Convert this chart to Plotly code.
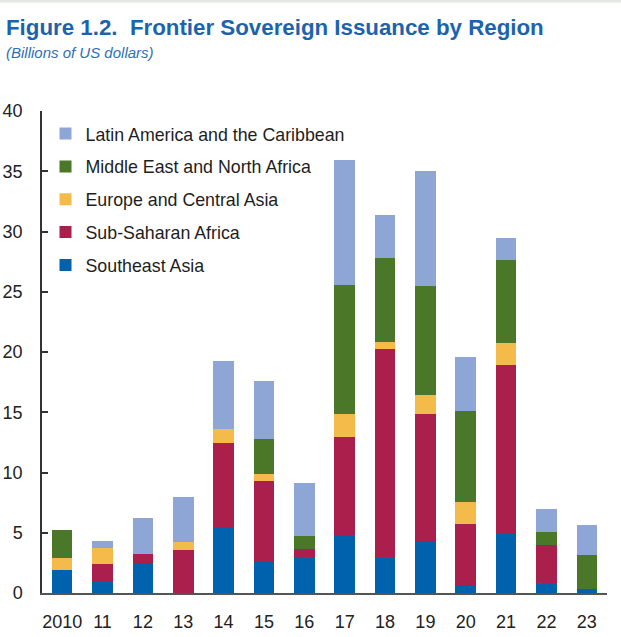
import plotly.graph_objects as go

years = ["2010", "11", "12", "13", "14", "15", "16", "17", "18", "19", "20", "21", "22", "23"]
southeast_asia = [1.9, 0.9, 2.45, 0.0, 5.4, 2.55, 2.97, 4.8, 2.97, 4.3, 0.55, 4.9, 0.86, 0.35]
sub_saharan_africa = [0.0, 1.5, 0.8, 3.55, 7.05, 6.78, 0.66, 8.15, 17.27, 10.58, 5.15, 14.0, 3.1, 0.0]
europe_central_asia = [1.0, 1.3, 0.0, 0.7, 1.2, 0.53, 0.0, 1.9, 0.55, 1.52, 1.85, 1.85, 0.0, 0.0]
middle_east_north_africa = [2.3, 0.0, 0.0, 0.0, 0.0, 2.93, 1.08, 10.7, 7.03, 9.05, 7.55, 6.85, 1.1, 2.78]
latin_america_caribbean = [0.0, 0.65, 2.95, 3.7, 5.6, 4.8, 4.45, 10.4, 3.55, 9.6, 4.5, 1.85, 1.9, 2.5]
y_ticks = [0, 5, 10, 15, 20, 25, 30, 35, 40]

series = [
    ("Southeast Asia", southeast_asia, "#0061ad"),
    ("Sub-Saharan Africa", sub_saharan_africa, "#aa1f4b"),
    ("Europe and Central Asia", europe_central_asia, "#f5bb4a"),
    ("Middle East and North Africa", middle_east_north_africa, "#4b7728"),
    ("Latin America and the Caribbean", latin_america_caribbean, "#8ea6d6"),
]

fig = go.Figure()
n = len(series)
for i, (name, vals, color) in enumerate(series):
    fig.add_trace(go.Bar(
        x=years, y=vals, name=name, legendgroup=name, legendrank=1000 + (n - i),
        marker=dict(color=color, line=dict(width=0)),
    ))

W, H = 621, 637
L, R, T, B = 42, 14, 111, 44
pw, ph = W - L - R, H - T - B

def px_x(p):
    return (p - L) / pw

def px_y(p):
    return (H - B - p) / ph

fig.update_layout(
    width=W, height=H, autosize=False,
    margin=dict(l=L, r=R, t=T, b=B, autoexpand=False),
    barmode="stack", bargap=0.49,
    plot_bgcolor="white", paper_bgcolor="white",
    font=dict(family="Liberation Sans, Arial, sans-serif", color="#222222"),
    showlegend=True,
    legend=dict(
        traceorder="grouped", tracegroupgap=6.7,
        x=px_x(45.5), y=px_y(115.5), xanchor="left", yanchor="top",
        font=dict(size=17.8, color="#1e1e1e"),
        bgcolor="rgba(0,0,0,0)",
    ),
    xaxis=dict(
        type="category", range=[-0.5, 13.5], automargin=False,
        showline=True, linecolor="#555555", linewidth=2,
        ticks="", showgrid=False,
        tickfont=dict(size=18, color="#222222"),
        ticklabelstandoff=11,
    ),
    yaxis=dict(
        range=[0, 40], tickvals=y_ticks, automargin=False,
        showline=True, linecolor="#333333", linewidth=1.5,
        ticks="inside", ticklen=6, tickwidth=1.5, tickcolor="#333333",
        showgrid=False, zeroline=False,
        tickfont=dict(size=18, color="#222222"),
        ticklabelstandoff=14,
    ),
    annotations=[
        dict(text="<b>Figure 1.2.\u00a0 Frontier Sovereign Issuance by Region</b>",
             xref="paper", yref="paper", x=px_x(4), y=px_y(28),
             xanchor="left", yanchor="middle", showarrow=False,
             font=dict(size=22.3, color="#1c63ae")),
        dict(text="<i>(Billions of US dollars)</i>",
             xref="paper", yref="paper", x=px_x(4), y=px_y(53),
             xanchor="left", yanchor="middle", showarrow=False,
             font=dict(size=15, color="#2f6fb8")),
    ],
    shapes=[
        dict(type="rect", xref="paper", yref="paper",
             x0=px_x(0), x1=px_x(W), y0=px_y(2.5), y1=px_y(0),
             fillcolor="#e4e8e4", line=dict(width=0), layer="above"),
    ],
)

fig.write_html("out.html", config={"displayModeBar": False},
               post_script="document.body.style.margin='0';")
